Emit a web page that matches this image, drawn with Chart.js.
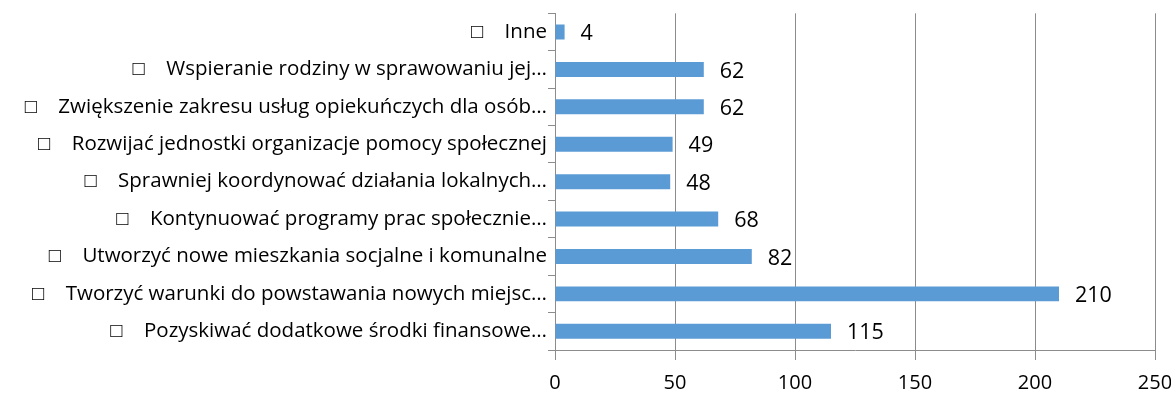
<!DOCTYPE html>
<html>
<head>
<meta charset="utf-8">
<script src="https://cdn.jsdelivr.net/npm/chart.js@4"></script>
<style>
  body { margin: 0; background: #fff; }
  #wrap { width: 1171px; height: 408px; }
</style>
</head>
<body>
<div id="wrap"><canvas id="myChart"></canvas></div>
<script>
var categories = [
  '\u25A1    Inne',
  '\u25A1    Wspieranie rodziny w sprawowaniu jej\u2026',
  '\u25A1    Zwi\u0119kszenie zakresu us\u0142ug opieku\u0144czych dla os\u00F3b\u2026',
  '\u25A1    Rozwija\u0107 jednostki organizacje pomocy spo\u0142ecznej',
  '\u25A1    Sprawniej koordynowa\u0107 dzia\u0142ania lokalnych\u2026',
  '\u25A1    Kontynuowa\u0107 programy prac spo\u0142ecznie\u2026',
  '\u25A1    Utworzy\u0107 nowe mieszkania socjalne i komunalne',
  '\u25A1    Tworzy\u0107 warunki do powstawania nowych miejsc\u2026',
  '\u25A1    Pozyskiwa\u0107 dodatkowe \u015Brodki finansowe\u2026'
];
var values = [4, 62, 62, 49, 48, 68, 82, 210, 115];
var xTicks = [0, 50, 100, 150, 200, 250];

var fontFamily = "'Open Sans', 'Noto Sans', sans-serif";

// value labels next to bar ends
var valueLabels = {
  id: 'valueLabels',
  afterDatasetsDraw: function(chart) {
    var ctx = chart.ctx;
    var meta = chart.getDatasetMeta(0);
    ctx.save();
    ctx.font = '21.5px ' + fontFamily;
    ctx.fillStyle = '#000';
    ctx.textBaseline = 'middle';
    ctx.textAlign = 'left';
    meta.data.forEach(function(bar, i) {
      ctx.fillText(String(values[i]), bar.x + 16, bar.y + 2);
    });
    ctx.restore();
  }
};

var chartImage = document.getElementById('myChart');
var chart = new Chart(chartImage, {
  type: 'bar',
  data: {
    labels: categories,
    datasets: [{
      data: values,
      backgroundColor: '#5B9BD5',
      borderWidth: 0,
      barPercentage: 0.8,
      categoryPercentage: 0.5
    }]
  },
  options: {
    indexAxis: 'y',
    responsive: true,
    maintainAspectRatio: false,
    animation: false,
    layout: { autoPadding: false, padding: { top: 12, right: 16, bottom: 2, left: 0 } },
    plugins: {
      legend: { display: false },
      tooltip: { enabled: false }
    },
    scales: {
      x: {
        min: 0,
        max: 250,
        afterBuildTicks: function(scale) {
          scale.ticks = xTicks.map(function(v) { return { value: v }; });
        },
        afterFit: function(scale) {
          scale.paddingLeft = 0;
          scale.paddingRight = 0;
        },
        grid: { color: '#8c8c8c', lineWidth: 1, tickLength: 10 },
        border: { color: '#8c8c8c' },
        ticks: {
          color: '#000',
          padding: 11,
          minRotation: 0,
          maxRotation: 0,
          font: { size: 20, family: fontFamily }
        }
      },
      y: {
        afterFit: function(scale) { scale.width = 555; },
        grid: { drawOnChartArea: false, color: '#8c8c8c', tickLength: 7 },
        border: { color: '#8c8c8c' },
        ticks: {
          color: '#000',
          padding: 1,
          autoSkip: false,
          font: { size: 20.5, family: fontFamily }
        }
      }
    }
  },
  plugins: [valueLabels]
});
</script>
</body>
</html>
